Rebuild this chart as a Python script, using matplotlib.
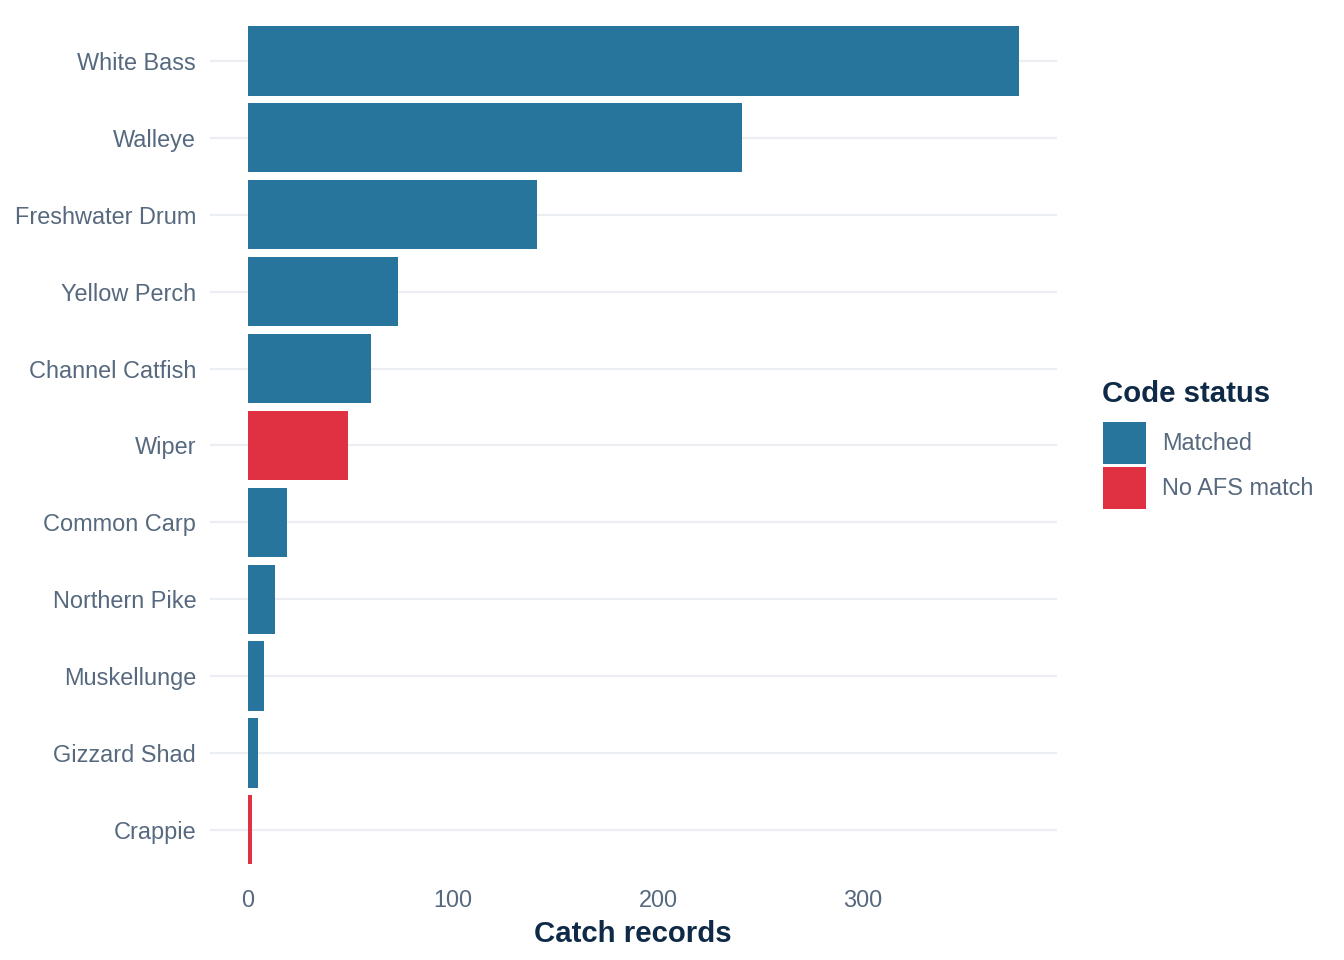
import matplotlib.pyplot as plt
from matplotlib.patches import Patch

plt.rcParams['font.family'] = ['Liberation Sans', 'DejaVu Sans']

# data (top to bottom)
species = ['White Bass', 'Walleye', 'Freshwater Drum', 'Yellow Perch', 'Channel Catfish',
           'Wiper', 'Common Carp', 'Northern Pike', 'Muskellunge', 'Gizzard Shad', 'Crappie']
records = [376, 241, 141, 73, 60, 49, 19, 13, 8, 5, 2]
status = ['Matched', 'Matched', 'Matched', 'Matched', 'Matched',
          'No AFS match', 'Matched', 'Matched', 'Matched', 'Matched', 'No AFS match']
status_levels = ['Matched', 'No AFS match']

colors = {'Matched': '#27749C', 'No AFS match': '#E03143'}
text_col = '#56697F'
title_col = '#0F2A47'
grid_col = '#EBEEF2'

DPI = 192
fig = plt.figure(figsize=(7, 5), dpi=DPI)
ax = fig.add_axes([0.1559, 0.0875, 0.7865 - 0.1559, 0.9845 - 0.0875])

n = len(species)
ypos = [n - 1 - i for i in range(n)]
ax.barh(ypos, records, height=0.9, color=[colors[s] for s in status], zorder=2)

ax.set_ylim(-0.6, n - 1 + 0.6)
xmax = max(records)
ax.set_xlim(-0.05 * xmax, xmax * 1.05)
ax.set_yticks(ypos)
ax.set_yticklabels(species)
ax.set_xticks([0, 100, 200, 300])

ax.yaxis.grid(True, color=grid_col, linewidth=0.8, zorder=0)
ax.xaxis.grid(False)
for sp in ax.spines.values():
    sp.set_visible(False)
ax.tick_params(axis='both', length=0, labelsize=8.8, labelcolor=text_col)
ax.tick_params(axis='y', pad=5)
ax.tick_params(axis='x', pad=5)

ax.set_xlabel('Catch records', fontsize=11, fontweight='bold', color=title_col, labelpad=3)

# legend
fig.text(1102 / 1344, 1 - 394 / 960, 'Code status', fontsize=11, fontweight='bold',
         color=title_col, ha='left', va='center')
handles = [Patch(facecolor=colors[s], edgecolor='none', label=s) for s in status_levels]
fs_px = 8.8 * DPI / 72
fig.legend(handles=handles, loc='upper left', bbox_to_anchor=(1103 / 1344, 1 - 422 / 960),
           frameon=False, fontsize=8.8, labelcolor=text_col,
           borderpad=0, borderaxespad=0,
           handlelength=43 / fs_px, handleheight=1.33 * 42 / fs_px,
           handletextpad=16 / fs_px, labelspacing=3 / fs_px)

fig.savefig('out.png', dpi=DPI)
